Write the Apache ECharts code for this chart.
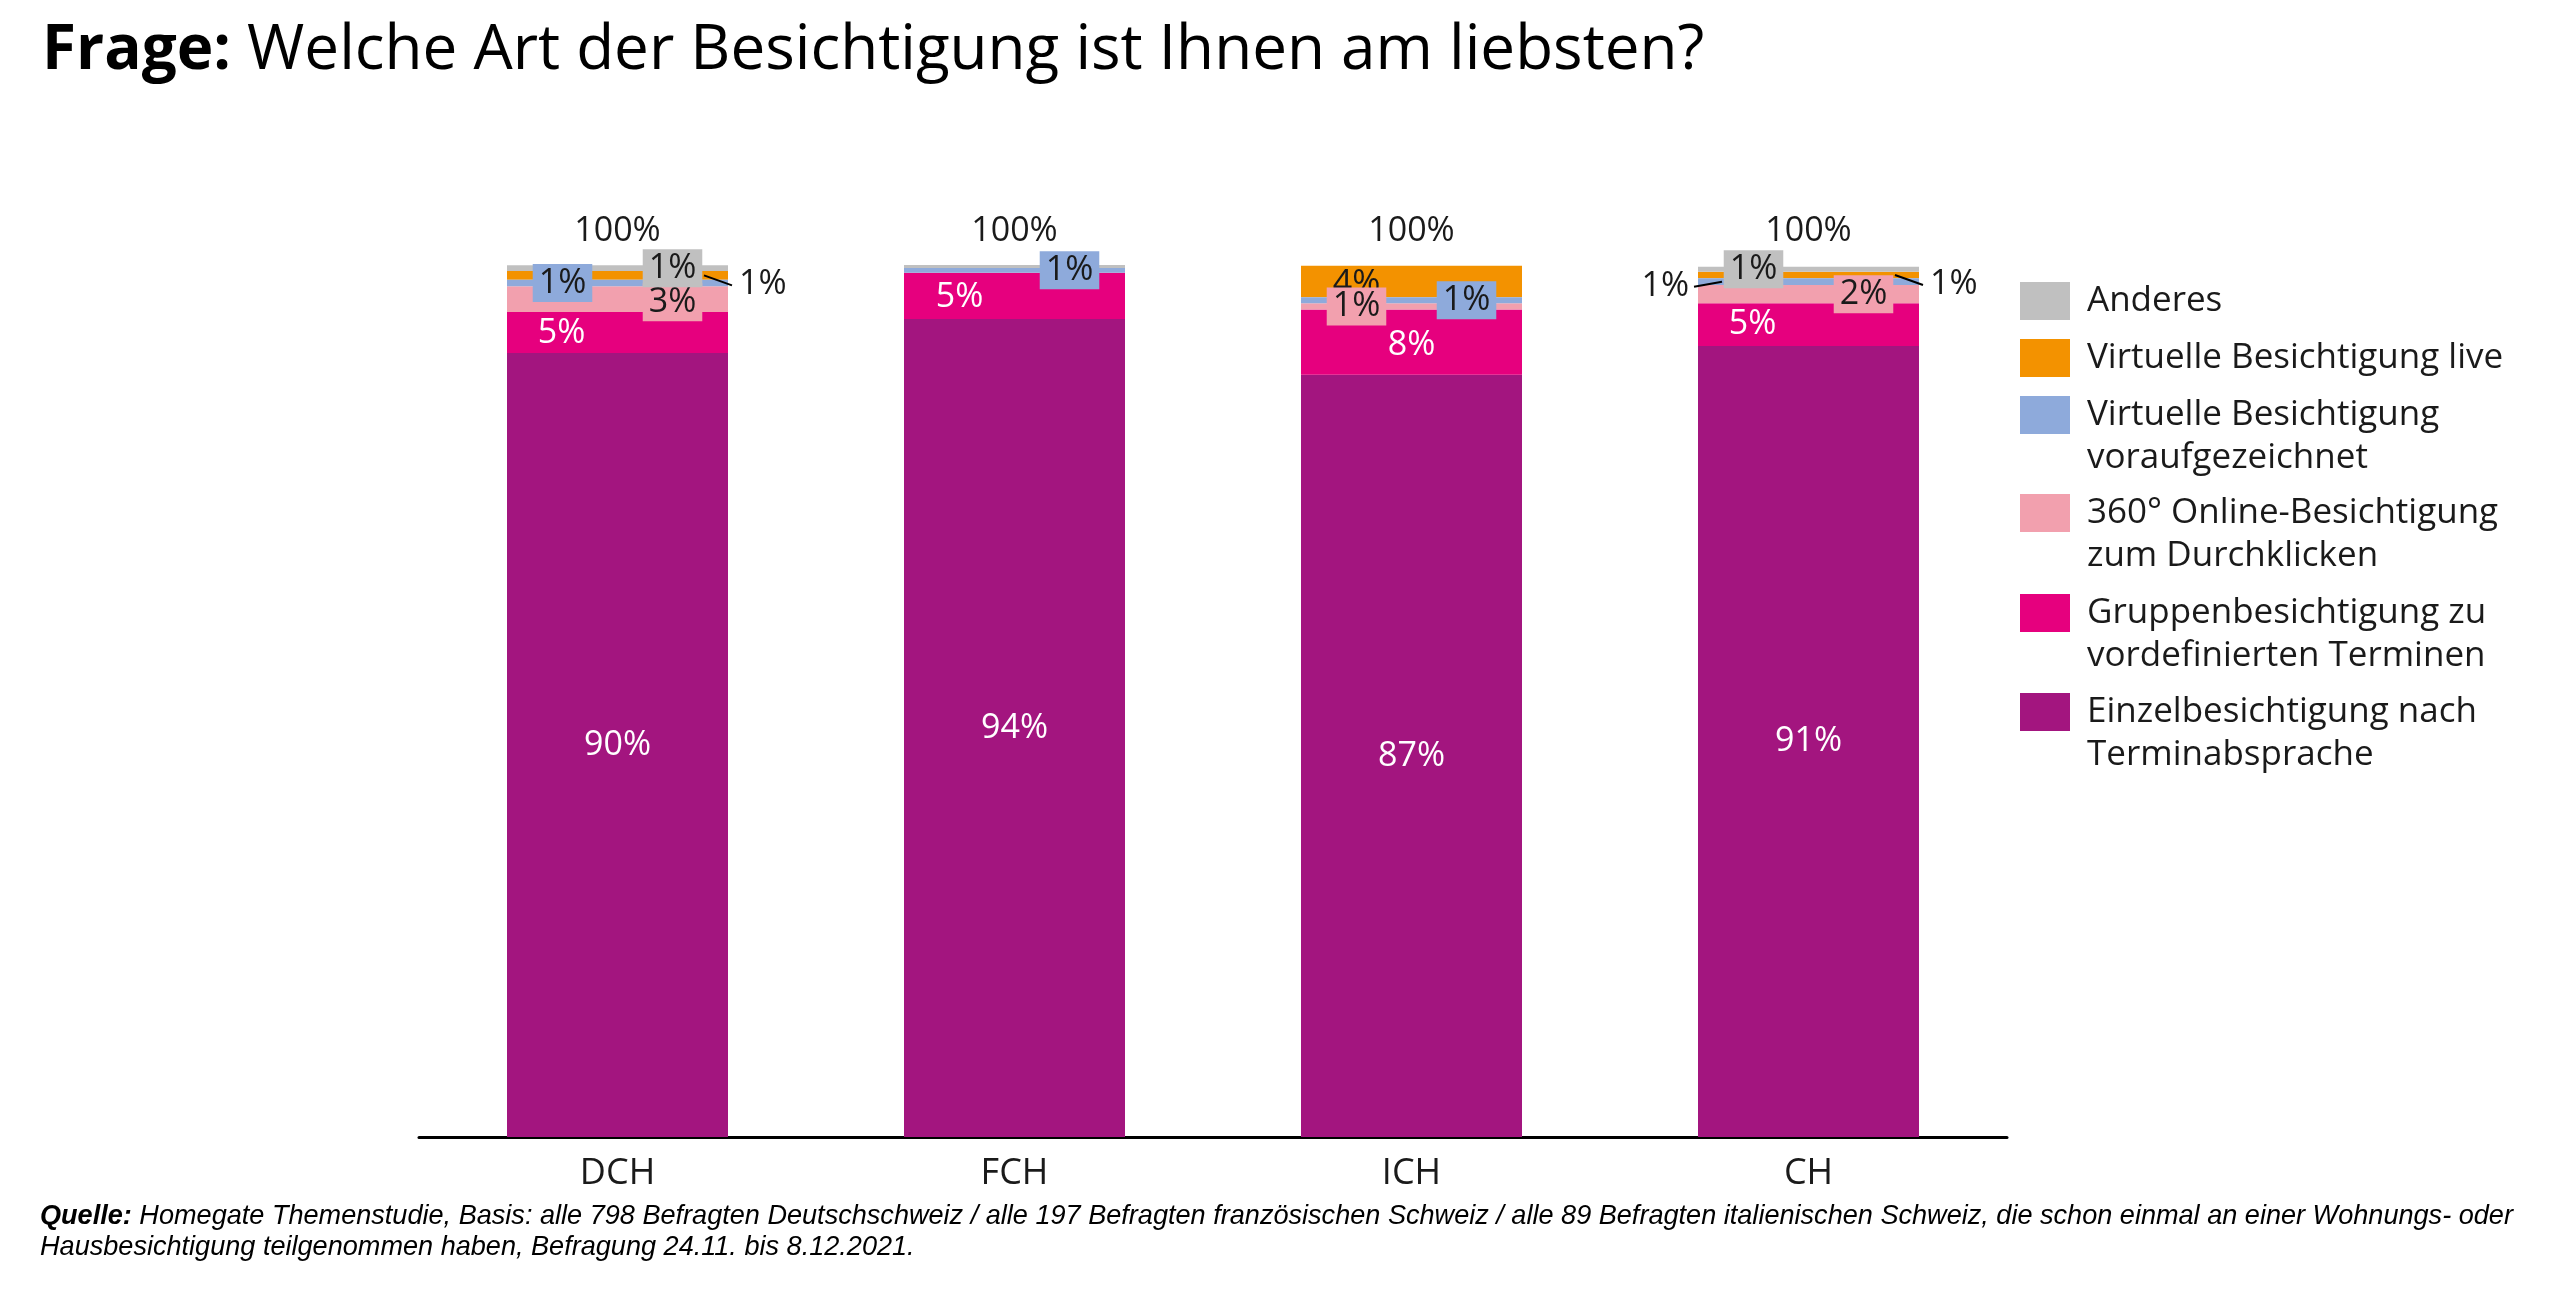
<!DOCTYPE html>
<html>
<head>
<meta charset="utf-8">
<script src="https://cdn.jsdelivr.net/npm/echarts@6/dist/echarts.min.js"></script>
<style>
  html, body { margin: 0; padding: 0; background: #fff; }
  #chart { width: 2560px; height: 1297px; }
</style>
</head>
<body>
<div id="chart"></div>
<script>
// categories and values (percent)
const categories = ['DCH', 'FCH', 'ICH', 'CH'];
const einzel = [89.9, 93.8, 87.4, 90.7];
const gruppen = [4.7, 5.3, 7.5, 4.9];
const online360 = [2.95, 0, 0.7, 2.1];
const virtuellAufgez = [0.77, 0.57, 0.7, 0.77];
const virtuellLive = [0.99, 0, 3.6, 0.76];
const anderes = [0.65, 0.38, 0, 0.57];
const totals = [100, 100, 100, 100];

const seriesNames = [
    'Einzelbesichtigung nach Terminabsprache',
    'Gruppenbesichtigung zu vordefinierten Terminen',
    '360° Online-Besichtigung zum Durchklicken',
    'Virtuelle Besichtigung voraufgezeichnet',
    'Virtuelle Besichtigung live',
    'Anderes'
];
const seriesValues = [einzel, gruppen, online360, virtuellAufgez, virtuellLive, anderes];
const colors = ['#a3157f', '#e6007e', '#f2a0ae', '#8eaadb', '#f39200', '#c0c0c0'];
// orange labels sit below the other boxes (the "4%" in ICH is partly hidden)
const seriesZ = [2, 2, 2, 2, 1, 2];

const legendLines = {
    'Anderes': 'Anderes',
    'Virtuelle Besichtigung live': 'Virtuelle Besichtigung live',
    'Virtuelle Besichtigung voraufgezeichnet': 'Virtuelle Besichtigung\nvoraufgezeichnet',
    '360° Online-Besichtigung zum Durchklicken': '360° Online-Besichtigung\nzum Durchklicken',
    'Gruppenbesichtigung zu vordefinierten Terminen': 'Gruppenbesichtigung zu\nvordefinierten Terminen',
    'Einzelbesichtigung nach Terminabsprache': 'Einzelbesichtigung nach\nTerminabsprache'
};

// where each segment label sits (per series, per category); null = no label
// kind: w = white text, d = dark text, b = boxed in series colour
const spots = [
    [{kind: 'w'}, {kind: 'w'}, {kind: 'w'}, {kind: 'w'}],
    [{kind: 'w', dx: -56, dy: 1}, {kind: 'w', dx: -55, dy: 1}, {kind: 'w', dy: 3}, {kind: 'w', dx: -56}],
    [{kind: 'b', dx: 55, dy: 3}, null, {kind: 'b', dx: -55}, {kind: 'b', dx: 55}],
    [{kind: 'b', dx: -55}, {kind: 'b', dx: 55}, {kind: 'b', dx: 55}, {kind: 'd', leader: 'left'}],
    [{kind: 'd', leader: 'right'}, null, {kind: 'd', dx: -55, dy: 3}, {kind: 'd', leader: 'right'}],
    [{kind: 'b', dx: 55}, null, null, {kind: 'b', dx: -55}]
];

const FONT = 'Open Sans';
const DARK = '#1a1a1a';
const BAR_W = 221;

function labelFor(spot, color) {
    if (!spot) return {show: false};
    const l = {show: true, color: spot.kind === 'w' ? '#fff' : DARK};
    if (spot.kind === 'b') {
        l.backgroundColor = color;
        l.padding = [2, 6];
    }
    return l;
}

function makeLayout(list) {
    return function (p) {
        const s = list[p.dataIndex];
        if (!s) return {};
        const r = p.rect;
        const cy = r.y + r.height / 2;
        if (s.leader === 'right') {
            return {x: r.x + r.width + 11, y: cy + 9, align: 'left', verticalAlign: 'middle'};
        }
        if (s.leader === 'left') {
            return {x: r.x - 9, y: cy + 5, align: 'right', verticalAlign: 'middle'};
        }
        return {dx: s.dx || 0, dy: s.dy || 0};
    };
}

const barSeries = seriesNames.map(function (name, si) {
    return {
        name: name,
        type: 'bar',
        stack: 'total',
        barWidth: BAR_W,
        barGap: '-100%',
        z: seriesZ[si],
        itemStyle: {color: colors[si]},
        label: {
            show: true,
            position: 'inside',
            fontFamily: FONT,
            fontSize: 34,
            lineHeight: 34,
            formatter: function (p) { return Math.round(p.value) + '%'; }
        },
        labelLayout: makeLayout(spots[si]),
        emphasis: {disabled: true},
        data: seriesValues[si].map(function (v, ci) {
            return {value: v, label: labelFor(spots[si][ci], colors[si])};
        })
    };
});

barSeries.push({
    name: 'Total',
    type: 'bar',
    barWidth: BAR_W,
    barGap: '-100%',
    z: 0,
    silent: true,
    itemStyle: {color: 'rgba(0,0,0,0)'},
    label: {
        show: true,
        position: 'top',
        distance: 17,
        fontFamily: FONT,
        fontSize: 34,
        color: DARK,
        formatter: function (p) { return p.value + '%'; }
    },
    data: totals
});

// leader lines for the small labels set beside the bars:
// [category, segment bottom, segment top, side]
const leaderData = [];
spots.forEach(function (row, si) {
    row.forEach(function (s, ci) {
        if (!s || !s.leader) return;
        let lo = 0;
        for (let k = 0; k < si; k++) lo += seriesValues[k][ci];
        leaderData.push([ci, lo, lo + seriesValues[si][ci], s.leader === 'right' ? 1 : -1]);
    });
});

barSeries.push({
    name: 'Leader',
    type: 'custom',
    silent: true,
    z: 5,
    renderItem: function (params, api) {
        const lo = api.coord([api.value(0), api.value(1)]);
        const hi = api.coord([api.value(0), api.value(2)]);
        const cy = (lo[1] + hi[1]) / 2;
        const side = api.value(3);
        const edge = lo[0] + side * BAR_W / 2;
        const drop = side > 0 ? 10 : 5;
        return {
            type: 'line',
            shape: {x1: edge - side * 24, y1: cy, x2: edge + side * 4, y2: cy + drop},
            style: {stroke: '#000', lineWidth: 2}
        };
    },
    data: leaderData
});

// legend: one block per entry; two-line names get an empty first row so the
// swatch sits level with the first text row
const legendOrder = seriesNames.slice().reverse();
const swatchCenters = [301, 358, 415, 513, 613, 712];
const LEGEND_LH = 43;
const legends = legendOrder.map(function (name, i) {
    const twoLines = legendLines[name].indexOf('\n') >= 0;
    return {
        data: [name],
        orient: 'vertical',
        left: 2020,
        top: swatchCenters[i] - (twoLines ? LEGEND_LH * 1.5 : LEGEND_LH / 2),
        padding: 0,
        itemWidth: 50,
        itemHeight: 38,
        icon: 'rect',
        selectedMode: false,
        formatter: function (n) { return (twoLines ? '\n' : '') + legendLines[n]; },
        textStyle: {
            fontFamily: FONT,
            fontSize: 35,
            lineHeight: LEGEND_LH,
            color: DARK,
            padding: [0, 0, 0, 12]
        }
    };
});

const chart = echarts.init(document.getElementById('chart'), null, {renderer: 'canvas'});
chart.setOption({
    backgroundColor: '#fff',
    animation: false,
    title: [
        {
            text: '{b|Frage:} Welche Art der Besichtigung ist Ihnen am liebsten?',
            left: 42,
            top: 20,
            padding: 0,
            textStyle: {
                fontFamily: FONT,
                fontSize: 62,
                fontWeight: 'normal',
                color: '#000',
                rich: {
                    b: {fontFamily: FONT, fontSize: 62, fontWeight: 'bold', color: '#000'}
                }
            }
        },
        {
            text: '{b|Quelle:} Homegate Themenstudie, Basis: alle 798 Befragten Deutschschweiz / alle 197 Befragten französischen Schweiz / alle 89 Befragten italienischen Schweiz, die schon einmal an einer Wohnungs- oder\nHausbesichtigung teilgenommen haben, Befragung 24.11. bis 8.12.2021.',
            left: 40,
            top: 1201,
            padding: 0,
            textStyle: {
                fontFamily: 'Liberation Sans',
                fontStyle: 'italic',
                fontSize: 27.1,
                lineHeight: 31,
                fontWeight: 'normal',
                color: '#000',
                rich: {
                    b: {fontFamily: 'Liberation Sans', fontStyle: 'italic', fontWeight: 'bold', fontSize: 27.1, lineHeight: 31, color: '#000'}
                }
            }
        }
    ],
    legend: legends,
    grid: {left: 419, right: 553, top: 265, bottom: 160, containLabel: false},
    xAxis: {
        type: 'category',
        data: categories,
        axisLine: {lineStyle: {color: '#000', width: 3}},
        axisTick: {show: false},
        axisLabel: {fontFamily: FONT, fontSize: 36, color: DARK, margin: 19}
    },
    yAxis: {
        type: 'value',
        min: 0,
        max: 100,
        show: false
    },
    series: barSeries
});
</script>
</body>
</html>
